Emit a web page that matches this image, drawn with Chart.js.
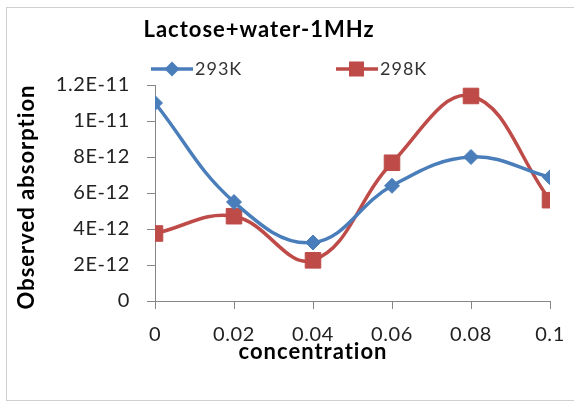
<!DOCTYPE html>
<html>
<head>
<meta charset="utf-8">
<script src="https://cdn.jsdelivr.net/npm/chart.js@4.4.1/dist/chart.umd.min.js"></script>
<style>
  html, body { margin: 0; padding: 0; background: #fff; }
  #wrap { position: relative; width: 574px; height: 403px; overflow: hidden; }
  #frame { position: absolute; left: 6px; top: 7px; width: 600px; height: 392px; border: 1px solid #d0d0d0; }
  #chart { position: absolute; left: 0; top: 0; }
</style>
</head>
<body>
<div id="wrap">
  <div id="frame"></div>
  <canvas id="chart" width="574" height="403"></canvas>
</div>
<script>
// data
const chartTitle = 'Lactose+water-1MHz';
const xAxisTitle = 'concentration';
const yAxisTitle = 'Observed absorption';

const concentration = [0, 0.02, 0.04, 0.06, 0.08, 0.1];
const absorption293K = [1.10e-11, 5.5e-12, 3.25e-12, 6.4e-12, 8.0e-12, 6.87e-12];
const absorption298K = [3.75e-12, 4.71e-12, 2.26e-12, 7.68e-12, 1.139e-11, 5.6e-12];
const seriesLabels = ['293K', '298K'];

const xTickValues = [0, 0.02, 0.04, 0.06, 0.08, 0.1];
const xTickLabels = ['0', '0.02', '0.04', '0.06', '0.08', '0.1'];
const yTickValues = [0, 2e-12, 4e-12, 6e-12, 8e-12, 1e-11, 1.2e-11];
const yTickLabels = ['0', '2E-12', '4E-12', '6E-12', '8E-12', '1E-11', '1.2E-11'];

const blue = '#4a7ebb';
const red = '#be4b48';
const tickFont = { family: 'Lato', size: 20 };
const boldFont = 'bold 22px Lato';

function toPoints(xs, ys) {
    return xs.map((x, i) => ({ x: x, y: ys[i] }));
}

// legend sample: short line with the marker in the middle
function legendSample(color, style) {
    const c = document.createElement('canvas');
    c.width = 44;
    c.height = 16;
    const g = c.getContext('2d');
    g.strokeStyle = color;
    g.lineWidth = 3.5;
    g.beginPath();
    g.moveTo(1, 8);
    g.lineTo(43, 8);
    g.stroke();
    g.fillStyle = color;
    if (style === 'diamond') {
        g.beginPath();
        g.moveTo(22, 0.5); g.lineTo(29.5, 8); g.lineTo(22, 15.5); g.lineTo(14.5, 8);
        g.closePath();
        g.fill();
    } else {
        g.fillRect(14, 0.5, 15, 15);
    }
    return c;
}

// the reference text is loosely spaced, so widen the tick labels a little
const spacingPlugin = {
    id: 'spacingPlugin',
    beforeDraw(chart) {
        chart.ctx.letterSpacing = '0.6px';
    },
};

// title, legend and axis titles sit off-centre in the reference, so draw them here
const textPlugin = {
    id: 'textPlugin',
    afterDraw(chart) {
        const ctx = chart.ctx;
        ctx.save();
        ctx.fillStyle = '#000';
        ctx.font = boldFont;
        ctx.letterSpacing = '1px';
        ctx.textAlign = 'center';
        ctx.textBaseline = 'middle';
        ctx.fillText(chartTitle, 259, 30);
        ctx.fillText(xAxisTitle, 313, 352);

        ctx.save();
        ctx.translate(27, 197);
        ctx.rotate(-Math.PI / 2);
        ctx.fillText(yAxisTitle, 0, 0);
        ctx.restore();

        ctx.font = '18px Lato';
        ctx.letterSpacing = '1px';
        ctx.textAlign = 'left';
        ctx.fillStyle = '#333';
        const samples = [legendSample(blue, 'diamond'), legendSample(red, 'square')];
        const starts = [150, 335];
        chart.data.datasets.forEach((ds, i) => {
            ctx.drawImage(samples[i], starts[i], 61);
            ctx.fillText(ds.label, starts[i] + 45, 69);
        });
        ctx.restore();
    },
};

new Chart(document.getElementById('chart'), {
    type: 'line',
    data: {
        datasets: [
            {
                label: seriesLabels[0],
                data: toPoints(concentration, absorption293K),
                borderColor: blue,
                backgroundColor: blue,
                borderWidth: 3.5,
                pointStyle: 'rectRot',
                pointRadius: 7.5,
                pointBorderWidth: 1,
                tension: 0.4,
            },
            {
                label: seriesLabels[1],
                data: toPoints(concentration, absorption298K),
                borderColor: red,
                backgroundColor: red,
                borderWidth: 3.5,
                pointStyle: 'rect',
                pointRadius: 11,
                pointBorderWidth: 1,
                tension: 0.4,
            },
        ],
    },
    options: {
        responsive: false,
        animation: false,
        layout: {
            padding: { left: 0, right: 0, top: 85, bottom: 20 },
        },
        plugins: {
            legend: { display: false },
            tooltip: { enabled: false },
        },
        scales: {
            x: {
                type: 'linear',
                min: 0,
                max: 0.1,
                afterBuildTicks: (scale) => {
                    scale.ticks = xTickValues.map((v) => ({ value: v }));
                },
                afterFit: (scale) => {
                    scale.height = 82;
                    scale.paddingRight = 24;
                },
                grid: {
                    drawOnChartArea: false,
                    drawTicks: true,
                    tickLength: 8,
                    color: '#868686',
                },
                border: { color: '#868686', width: 1 },
                ticks: {
                    font: tickFont,
                    color: '#222',
                    padding: 14,
                    maxRotation: 0,
                    callback: (value, index) => xTickLabels[index],
                },
            },
            y: {
                min: 0,
                max: 1.2e-11,
                afterBuildTicks: (scale) => {
                    scale.ticks = yTickValues.map((v) => ({ value: v }));
                },
                afterFit: (scale) => {
                    scale.width = 155;
                },
                grid: {
                    drawOnChartArea: false,
                    drawTicks: true,
                    tickLength: 8,
                    color: '#868686',
                },
                border: { color: '#868686', width: 1 },
                ticks: {
                    font: tickFont,
                    color: '#222',
                    padding: 17,
                    callback: (value, index) => yTickLabels[index],
                },
            },
        },
    },
    plugins: [spacingPlugin, textPlugin],
});
</script>
</body>
</html>
